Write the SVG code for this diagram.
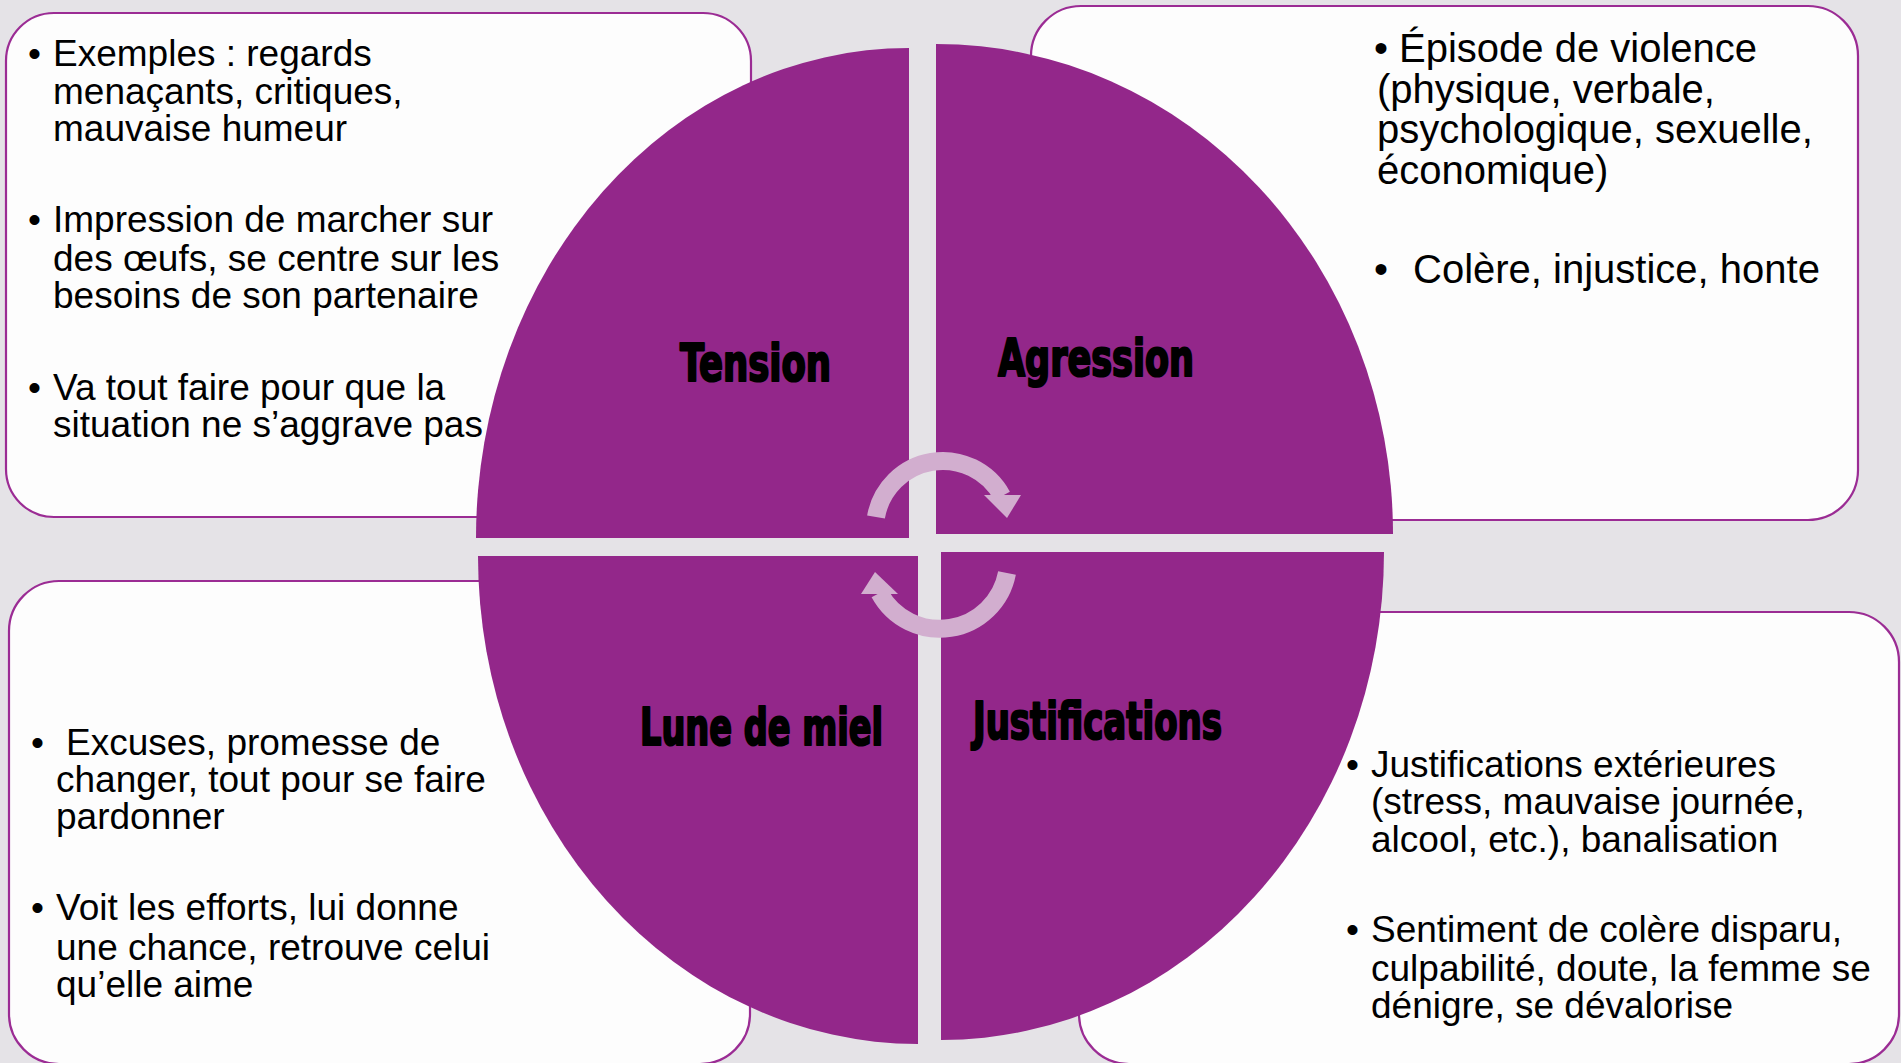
<svg xmlns="http://www.w3.org/2000/svg" width="1901" height="1063" viewBox="0 0 1901 1063">
<style>
.bg{fill:#e5e3e7}
.box{fill:#fdfdfd;stroke:#9b2c94;stroke-width:2.2}
.q{fill:#93278a}
.t{font-family:"Liberation Sans",Arial,sans-serif;font-size:37px;fill:#000}
.t40{font-family:"Liberation Sans",Arial,sans-serif;font-size:40px;fill:#000}
.lbl{font-family:"DejaVu Sans Condensed","DejaVu Sans","Liberation Sans Narrow",sans-serif;font-weight:bold;font-stretch:condensed;font-size:51px;fill:#000;stroke:#000;stroke-width:2.2;stroke-linejoin:round}
.arr{fill:none;stroke:#d2aecf;stroke-width:18}
.ah{fill:#d2aecf}
</style>
<rect class="bg" x="0" y="0" width="1901" height="1063"/>

<g id="box-tension">
<rect class="box" x="6" y="13" width="745" height="504" rx="48" ry="48"/>
<text class="t"><tspan x="28" y="66">•</tspan><tspan x="53" y="66">Exemples : regards</tspan><tspan x="53" y="103.5">menaçants, critiques,</tspan><tspan x="53" y="141">mauvaise humeur</tspan></text>
<text class="t"><tspan x="28" y="232">•</tspan><tspan x="53" y="232">Impression de marcher sur</tspan><tspan x="53" y="270.5">des œufs, se centre sur les</tspan><tspan x="53" y="308">besoins de son partenaire</tspan></text>
<text class="t"><tspan x="28" y="400">•</tspan><tspan x="53" y="400">Va tout faire pour que la</tspan><tspan x="53" y="437">situation ne s’aggrave pas</tspan></text>
</g>

<g id="box-agression">
<rect class="box" x="1031" y="6" width="827" height="514" rx="50" ry="50"/>
<text class="t40"><tspan x="1374" y="62">•</tspan><tspan x="1399" y="62">Épisode de violence</tspan><tspan x="1377" y="103">(physique, verbale,</tspan><tspan x="1377" y="143">psychologique, sexuelle,</tspan><tspan x="1377" y="184">économique)</tspan></text>
<text class="t40"><tspan x="1374" y="283">•</tspan><tspan x="1413" y="283">Colère, injustice, honte</tspan></text>
</g>

<g id="box-lune">
<rect class="box" x="9" y="581" width="741" height="483" rx="50" ry="50"/>
<text class="t"><tspan x="31" y="755">•</tspan><tspan x="66" y="755">Excuses, promesse de</tspan><tspan x="56" y="792">changer, tout pour se faire</tspan><tspan x="56" y="829">pardonner</tspan></text>
<text class="t"><tspan x="31" y="920">•</tspan><tspan x="56" y="920">Voit les efforts, lui donne</tspan><tspan x="56" y="960">une chance, retrouve celui</tspan><tspan x="56" y="997">qu’elle aime</tspan></text>
</g>

<g id="box-justifications">
<rect class="box" x="1079" y="612" width="820" height="452" rx="50" ry="50"/>
<text class="t"><tspan x="1346" y="777">•</tspan><tspan x="1371" y="777">Justifications extérieures</tspan><tspan x="1371" y="814">(stress, mauvaise journée,</tspan><tspan x="1371" y="851.5">alcool, etc.), banalisation</tspan></text>
<text class="t"><tspan x="1346" y="942">•</tspan><tspan x="1371" y="942">Sentiment de colère disparu,</tspan><tspan x="1371" y="980.5">culpabilité, doute, la femme se</tspan><tspan x="1371" y="1018">dénigre, se dévalorise</tspan></text>
</g>

<g id="q-tension">
<path class="q" d="M909 538 L476 538 A433 490 0 0 1 909 48 Z"/>
<text class="lbl" x="680" y="381" textLength="151" lengthAdjust="spacingAndGlyphs">Tension</text>
</g>
<g id="q-agression">
<path class="q" d="M936 534 L936 44 A457 490 0 0 1 1393 534 Z"/>
<text class="lbl" x="998" y="376" textLength="196" lengthAdjust="spacingAndGlyphs">Agression</text>
</g>
<g id="q-lune">
<path class="q" d="M918 556 L918 1044 A440 488 0 0 1 478 556 Z"/>
<text class="lbl" x="640" y="745" textLength="243" lengthAdjust="spacingAndGlyphs">Lune de miel</text>
</g>
<g id="q-justifications">
<path class="q" d="M941 552 L1384 552 A443 488 0 0 1 941 1040 Z"/>
<text class="lbl" x="973" y="739" textLength="249" lengthAdjust="spacingAndGlyphs">Justifications</text>
</g>

<g id="connectors">
<path class="arr" d="M876 517 A67.7 67.7 0 0 1 1002 496"/>
<polygon class="ah" points="984,495 1021,495 1007,518"/>
<path class="arr" d="M1007 573 A68.5 68.5 0 0 1 879.5 593"/>
<polygon class="ah" points="861,594 898,594 875,572"/>
</g>
</svg>
